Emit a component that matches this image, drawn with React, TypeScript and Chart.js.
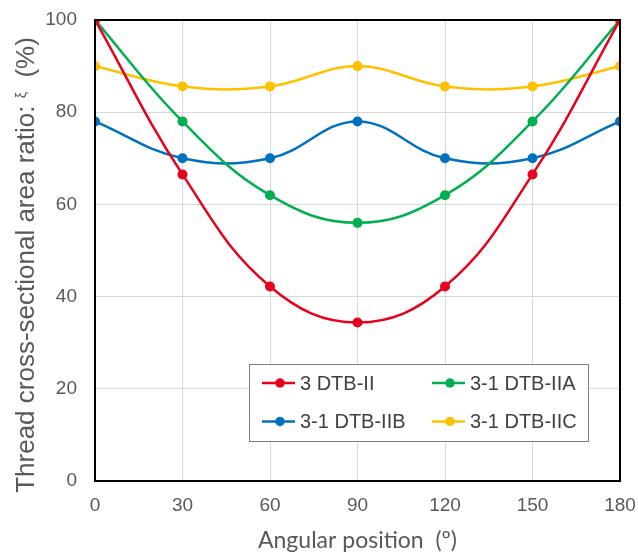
import React, { useEffect, useRef } from "react";
import { Chart, registerables } from "chart.js";

Chart.register(...registerables);

const angles = [0, 30, 60, 90, 120, 150, 180];
const seriesNames = ["3 DTB-II", "3-1 DTB-IIA", "3-1 DTB-IIB", "3-1 DTB-IIC"];
const red = [100, 66.5, 42.2, 34.4, 42.2, 66.5, 100];
const green = [100, 78, 62, 56, 62, 78, 100];
const blue = [78, 70, 70, 78, 70, 70, 78];
const yellow = [90, 85.6, 85.6, 90, 85.6, 85.6, 90];
const colors = ["#E8001C", "#00B050", "#0070C0", "#FFC000"];
const xTitle = "Angular position  (º)";
const yTitleParts = ["Thread cross-sectional area ratio: ", "ξ", "  (%)"];

const overlayPlugin = {
  id: "overlay",
  afterDraw(chart: any) {
    const { ctx, chartArea } = chart;
    ctx.save();
    // plot border
    ctx.strokeStyle = "#000";
    ctx.lineWidth = 2;
    ctx.strokeRect(chartArea.left, chartArea.top, chartArea.right - chartArea.left, chartArea.bottom - chartArea.top);

    // legend box
    const bx = chartArea.left + 154;
    const by = chartArea.top + 344;
    const bw = 339;
    const bh = 77;
    ctx.fillStyle = "#fff";
    ctx.fillRect(bx, by, bw, bh);
    ctx.strokeStyle = "#7f7f7f";
    ctx.lineWidth = 1;
    ctx.strokeRect(bx + 0.5, by + 0.5, bw, bh);
    const rows = [by + 19, by + 57.5];
    const cols = [bx + 13, bx + 183];
    ctx.font = '20px "Liberation Sans", Arial, sans-serif';
    ctx.textBaseline = "middle";
    ctx.textAlign = "left";
    seriesNames.forEach((name, i) => {
      const x = cols[i % 2];
      const y = rows[Math.floor(i / 2)];
      ctx.strokeStyle = colors[i];
      ctx.lineWidth = 2.5;
      ctx.beginPath();
      ctx.moveTo(x, y);
      ctx.lineTo(x + 33, y);
      ctx.stroke();
      ctx.fillStyle = colors[i];
      ctx.beginPath();
      ctx.arc(x + 18, y, 4.7, 0, Math.PI * 2);
      ctx.fill();
      ctx.fillStyle = "#404040";
      ctx.fillText(name, x + 38, y + 1);
    });

    // x title
    ctx.fillStyle = "#595959";
    ctx.font = '23px Lato, sans-serif';
    ctx.textAlign = "center";
    ctx.textBaseline = "alphabetic";
    ctx.fillText(xTitle, (chartArea.left + chartArea.right) / 2, 548);

    // y title (rotated)
    ctx.translate(34, 0);
    ctx.rotate(-Math.PI / 2);
    const big = '26px "Liberation Sans", Arial, sans-serif';
    const small = '14px "Liberation Sans", Arial, sans-serif';
    const fonts = [big, small, big];
    const widths = yTitleParts.map((t, i) => {
      ctx.font = fonts[i];
      return ctx.measureText(t).width;
    });
    const total = widths.reduce((a, b) => a + b, 0);
    let pos = -265 - total / 2;
    ctx.textAlign = "left";
    yTitleParts.forEach((t, i) => {
      ctx.font = fonts[i];
      ctx.fillText(t, pos, i === 1 ? -8 : 0);
      pos += widths[i];
    });
    ctx.restore();
  },
};

export default function App() {
  const ref = useRef<HTMLCanvasElement>(null);
  useEffect(() => {
    document.body.style.margin = "0";
    const data = [red, green, blue, yellow];
    const chart = new Chart(ref.current!, {
      type: "line",
      data: {
        datasets: seriesNames.map((n, i) => ({
          label: n,
          data: angles.map((a, j) => ({ x: a, y: data[i][j] })),
          borderColor: colors[i],
          backgroundColor: colors[i],
          borderWidth: 2.5,
          pointRadius: 5,
          pointBorderWidth: 0,
          tension: 0.4,
        })),
      },
      options: {
        animation: false,
        responsive: false,
        maintainAspectRatio: false,
        layout: { padding: { left: 0, right: 18, top: 20, bottom: 0 } },
        plugins: { legend: { display: false }, tooltip: { enabled: false } },
        scales: {
          x: {
            type: "linear",
            min: 0,
            max: 180,
            ticks: { stepSize: 30, color: "#595959", font: { family: '"Liberation Sans", Arial', size: 19 }, padding: 13 },
            grid: { color: "#d9d9d9", lineWidth: 1, drawTicks: false },
            border: { display: false },
            afterFit: (s: any) => {
              s.height = 75;
              s.paddingLeft = 0;
              s.paddingRight = 0;
            },
          },
          y: {
            min: 0,
            max: 100,
            ticks: { stepSize: 20, color: "#595959", font: { family: '"Liberation Sans", Arial', size: 19 }, padding: 18 },
            grid: { color: "#d9d9d9", lineWidth: 1, drawTicks: false },
            border: { display: false },
            afterFit: (s: any) => {
              s.width = 95;
              s.paddingTop = 0;
              s.paddingBottom = 0;
            },
          },
        },
      },
      plugins: [overlayPlugin],
    });
    return () => chart.destroy();
  }, []);
  return (
    <div style={{ width: 638, height: 556 }}>
      <canvas ref={ref} width={638} height={556} style={{ width: 638, height: 556 }} />
    </div>
  );
}
